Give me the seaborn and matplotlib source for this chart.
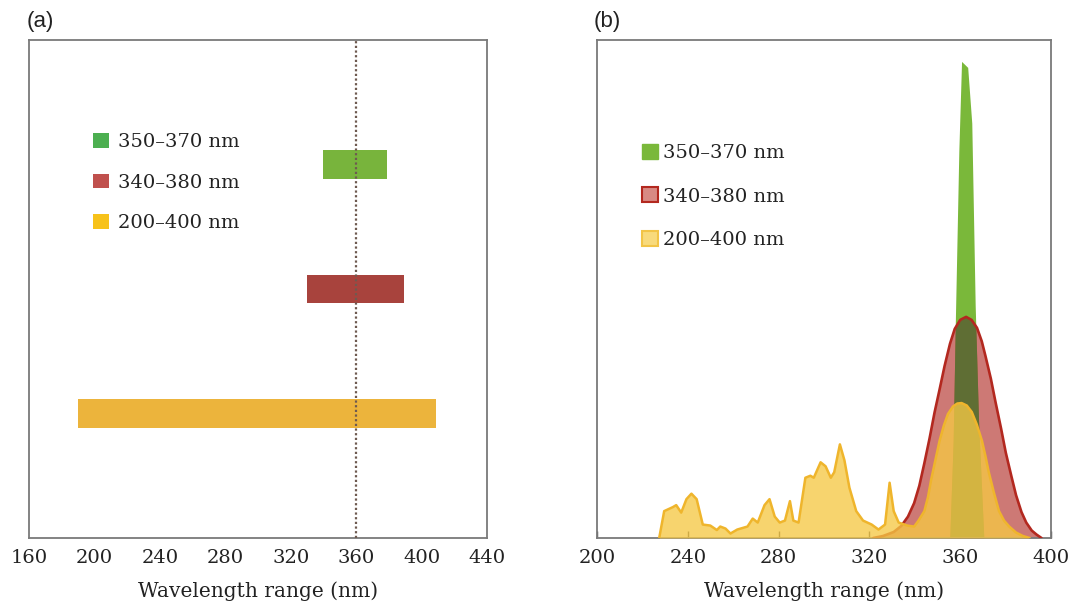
import numpy as np
import pandas as pd
import matplotlib
matplotlib.use("Agg")
import matplotlib.pyplot as plt
from matplotlib.patches import Patch
import seaborn as sns

# ---------------- data ----------------
range_labels = ["350\u2013370 nm", "340\u2013380 nm", "200\u2013400 nm"]
bar_start = [340, 330, 190]
bar_end = [379, 389, 409]
bar_rows = [1, 2, 3]
center_wl = 360

xticks_a = [160, 200, 240, 280, 320, 360, 400, 440]
xticks_b = [200, 240, 280, 320, 360, 400]

green_wl = [355.4, 356.9, 357.9, 359.4, 360.6, 363.3, 365.1, 366.6, 368.1, 370.4]
green_val = [0, 0.195, 0.444, 0.778, 0.957, 0.945, 0.833, 0.467, 0.233, 0]

red_wl = [321.7, 326.0, 330.7, 334.0, 337.0, 339.7, 342.0, 344.2, 346.5, 348.7,
          351.0, 353.1, 355.5, 357.6, 360.0, 362.6, 365.0, 367.4, 369.5, 371.1,
          373.5, 375.6, 378.0, 380.1, 382.5, 384.6, 387.0, 389.1, 391.5, 393.6, 395.8]
red_val = [0, 0.004, 0.012, 0.024, 0.043, 0.070, 0.105, 0.150, 0.200, 0.252,
           0.300, 0.345, 0.390, 0.420, 0.438, 0.444, 0.438, 0.422, 0.395, 0.366,
           0.320, 0.272, 0.220, 0.171, 0.125, 0.086, 0.052, 0.031, 0.015, 0.007, 0]

yellow_wl = [227.4, 229.6, 233.4, 234.9, 237.1, 239.4, 241.6, 243.9, 246.6, 249.9,
             252.8, 254.3, 256.6, 258.8, 261.8, 266.3, 268.6, 270.8, 273.8, 276.0,
             278.3, 280.5, 282.8, 285.0, 286.5, 288.8, 291.8, 294.0, 295.5, 298.5,
             300.7, 303.0, 304.5, 307.0, 309.0, 311.2, 314.2, 317.2, 321.0, 324.0,
             326.9, 328.9, 330.7, 332.9, 336.7, 339.7, 341.5, 344.2, 345.8, 347.2,
             349.0, 350.9, 352.8, 354.6, 356.8, 358.7, 360.6, 362.9, 365.1, 367.3,
             369.6, 371.1, 372.6, 374.8, 377.1, 379.3, 381.6, 384.6, 387.6, 390.6]
yellow_val = [0, 0.054, 0.062, 0.066, 0.051, 0.078, 0.089, 0.078, 0.027, 0.025,
              0.016, 0.023, 0.019, 0.009, 0.017, 0.023, 0.039, 0.031, 0.066, 0.078,
              0.043, 0.031, 0.035, 0.074, 0.035, 0.031, 0.121, 0.125, 0.121, 0.152,
              0.144, 0.121, 0.132, 0.188, 0.156, 0.101, 0.054, 0.035, 0.027, 0.017,
              0.027, 0.111, 0.054, 0.031, 0.025, 0.023, 0.034, 0.054, 0.082, 0.117,
              0.155, 0.195, 0.226, 0.249, 0.264, 0.270, 0.271, 0.266, 0.253, 0.228,
              0.195, 0.165, 0.132, 0.092, 0.054, 0.035, 0.023, 0.011, 0.004, 0]

# ---------------- style ----------------
sns.set_theme(style="white")
plt.rcParams["font.family"] = ["DejaVu Serif"]
SERIF = "DejaVu Serif"
SANS = "Liberation Sans"
spine_col = "#7a7a7a"
text_col = "#222222"

bar_cols = ["#78b43c", "#a8433d", "#ecb43c"]
leg_a_cols = ["#4caf50", "#c0504d", "#f7c21a"]

fig = plt.figure(figsize=(10.74, 6.05), dpi=100)
W, H = 1074, 605
ax_a = fig.add_axes([29 / W, 1 - 538 / H, 458 / W, 498 / H])
ax_b = fig.add_axes([597 / W, 1 - 538 / H, 454 / W, 498 / H])

# ---------------- panel (a) ----------------
df_a = pd.DataFrame({"label": range_labels, "start": bar_start, "end": bar_end, "row": bar_rows})
df_a["width"] = df_a["end"] - df_a["start"]
ax_a.barh(df_a["row"], df_a["width"], left=df_a["start"], height=0.23,
          color=bar_cols, edgecolor="none", zorder=2)
ax_a.axvline(center_wl, color="#6e5a50", lw=1.6, ls=(0, (1, 1.1)), zorder=3)
ax_a.set_xlim(160, 440)
ax_a.set_ylim(4, 0)
ax_a.set_yticks([])
ax_a.set_xticks(xticks_a)
ax_a.tick_params(axis="x", length=0, pad=8, labelsize=14, labelcolor=text_col)
for lab in ax_a.get_xticklabels():
    lab.set_family(SERIF)
ax_a.set_xlabel("Wavelength range (nm)", fontsize=14.5, family=SERIF, color=text_col, labelpad=10)
for s in ax_a.spines.values():
    s.set_color(spine_col)
    s.set_linewidth(1.3)

h_a = [Patch(facecolor=c, edgecolor="none") for c in leg_a_cols]
leg_a = fig.legend(h_a, range_labels, loc="upper left",
                   bbox_to_anchor=(93 / W, 1 - 133 / H), bbox_transform=fig.transFigure,
                   frameon=False, borderpad=0, borderaxespad=0,
                   handlelength=0.8, handleheight=0.8, handletextpad=0.5,
                   labelspacing=1.15, prop={"family": SERIF, "size": 14})
for t in leg_a.get_texts():
    t.set_color(text_col)

# ---------------- panel (b) ----------------
df_g = pd.DataFrame({"wl": green_wl, "val": green_val})
df_r = pd.DataFrame({"wl": red_wl, "val": red_val})
df_y = pd.DataFrame({"wl": yellow_wl, "val": yellow_val})

green_fill = ax_b.fill_between(df_g["wl"], df_g["val"], color="#7ab83a", lw=0, zorder=1)
red_fill = ax_b.fill_between(df_r["wl"], df_r["val"], color="#b8413a", alpha=0.7, lw=0, zorder=2)
# darker overlap where the red band covers the green peak
overlap = ax_b.fill_between(df_g["wl"], df_g["val"], color="#5f6e34", lw=0, zorder=2.5)
overlap.set_clip_path(red_fill.get_paths()[0], ax_b.transData)
sns.lineplot(data=df_r, x="wl", y="val", ax=ax_b, color="#b3281f", lw=1.9,
             sort=False, zorder=3, legend=False)
ax_b.fill_between(df_y["wl"], df_y["val"], color="#f5c845", alpha=0.78, lw=0, zorder=4)
sns.lineplot(data=df_y, x="wl", y="val", ax=ax_b, color="#efb52c", lw=1.8,
             sort=False, zorder=5, legend=False)

ax_b.set_xlim(200, 400)
ax_b.set_ylim(0, 1)
ax_b.set_yticks([])
ax_b.set_ylabel("")
ax_b.set_xticks(xticks_b)
ax_b.tick_params(axis="x", direction="in", length=5, width=1, color="#444444",
                 bottom=True, pad=8, labelsize=14, labelcolor=text_col)
for lab in ax_b.get_xticklabels():
    lab.set_family(SERIF)
ax_b.set_xlabel("Wavelength range (nm)", fontsize=14.5, family=SERIF, color=text_col, labelpad=10)
for s in ax_b.spines.values():
    s.set_color(spine_col)
    s.set_linewidth(1.3)

h_b = [Patch(facecolor="#7ab83a", edgecolor="#7ab83a"),
       Patch(facecolor="#d88a84", edgecolor="#b3281f", lw=1.5),
       Patch(facecolor="#f8da7c", edgecolor="#f2c447", lw=1.5)]
leg_b = fig.legend(h_b, range_labels, loc="upper left",
                   bbox_to_anchor=(642 / W, 1 - 144 / H), bbox_transform=fig.transFigure,
                   frameon=False, borderpad=0, borderaxespad=0,
                   handlelength=0.8, handleheight=0.8, handletextpad=0.3,
                   labelspacing=1.3, prop={"family": SERIF, "size": 14})
for t in leg_b.get_texts():
    t.set_color(text_col)

# panel labels
fig.text(27 / W, 1 - 22 / H, "(a)", family=SANS, fontsize=16, color=text_col, va="center", ha="left")
fig.text(594 / W, 1 - 22 / H, "(b)", family=SANS, fontsize=16, color=text_col, va="center", ha="left")

fig.savefig("out.png", dpi=100)
